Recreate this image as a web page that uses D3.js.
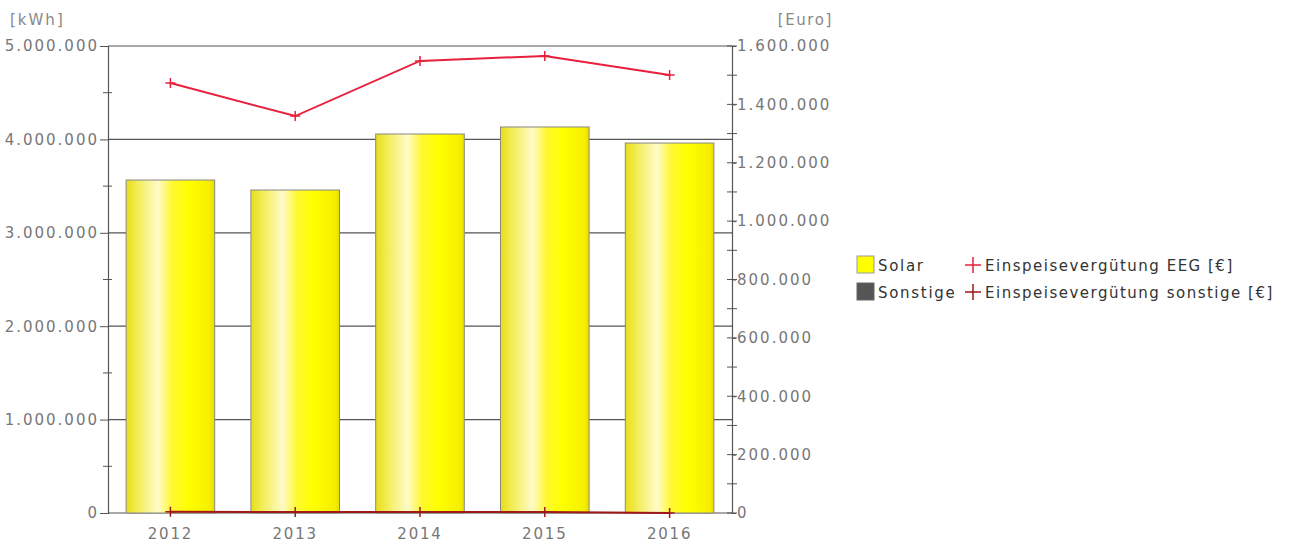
<!DOCTYPE html>
<html>
<head>
<meta charset="utf-8">
<script src="https://cdn.jsdelivr.net/npm/d3@7"></script>
<style>
  body { margin: 0; background: #fff; }
  text { font-family: "DejaVu Sans", sans-serif; }
</style>
</head>
<body>
<svg width="1292" height="542"></svg>
<script>
const years = ["2012", "2013", "2014", "2015", "2016"];
const solar = [3565000, 3458000, 4058000, 4133000, 3961000];
const sonstige = [0, 0, 0, 0, 0];
const eeg = [1473000, 1360000, 1549000, 1566000, 1501000];
const vergSonstige = [4000, 3500, 3500, 3000, 0];
const kwhTicks = [0, 1000000, 2000000, 3000000, 4000000, 5000000];
const euroTicks = [0, 200000, 400000, 600000, 800000, 1000000, 1200000, 1400000, 1600000];

const fmt = d => d3.format(",")(d).replace(/,/g, ".");

const svg = d3.select("svg");
const plotL = 108, plotR = 732, plotT = 46, plotB = 513;

const x = d3.scaleBand().domain(years).range([plotL, plotR]).paddingInner(0.29).paddingOuter(0.145);
const y = d3.scaleLinear().domain([0, 5000000]).range([plotB, plotT]);
const y2 = d3.scaleLinear().domain([0, 1600000]).range([plotB, plotT]);

const defs = svg.append("defs");
const grad = defs.append("linearGradient").attr("id", "barGrad");
grad.selectAll("stop")
  .data([[0, "#e8de18"], [0.15, "#f4ee60"], [0.36, "#fffbc8"], [0.52, "#fff830"], [0.7, "#ffff00"], [0.95, "#f6ee00"], [1, "#e4dc00"]])
  .join("stop")
  .attr("offset", d => d[0])
  .attr("stop-color", d => d[1]);

// gridlines
svg.append("g")
  .selectAll("line")
  .data(kwhTicks)
  .join("line")
  .attr("x1", plotL).attr("x2", plotR)
  .attr("y1", d => y(d)).attr("y2", d => y(d))
  .attr("stroke", "#555").attr("stroke-width", 1.2);

// bars
svg.append("g")
  .selectAll("rect")
  .data(years)
  .join("rect")
  .attr("x", d => x(d))
  .attr("width", x.bandwidth())
  .attr("y", (d, i) => y(solar[i]))
  .attr("height", (d, i) => plotB - y(solar[i]))
  .attr("fill", "url(#barGrad)")
  .attr("stroke", "#888").attr("stroke-width", 1);

// left axis
const leftAxis = svg.append("g").attr("transform", `translate(${plotL},0)`)
  .call(d3.axisLeft(y).tickValues(kwhTicks).tickFormat(fmt).tickSize(8).tickPadding(1));
leftAxis.selectAll("line.minor")
  .data([500000, 1500000, 2500000, 3500000, 4500000])
  .join("line")
  .attr("class", "minor")
  .attr("x1", -5).attr("x2", 4)
  .attr("y1", d => y(d)).attr("y2", d => y(d))
  .attr("stroke", "#555");

// right axis
const rightAxis = svg.append("g").attr("transform", `translate(${plotR},0)`)
  .call(d3.axisRight(y2).tickValues(euroTicks).tickFormat(fmt).tickSize(4).tickPadding(1));
rightAxis.selectAll("line.minor")
  .data([0, 100000, 200000, 300000, 400000, 500000, 600000, 700000, 800000, 900000, 1000000, 1100000, 1200000, 1300000, 1400000, 1500000, 1600000])
  .join("line")
  .attr("class", "minor")
  .attr("x1", -5).attr("x2", 5)
  .attr("y1", d => y2(d)).attr("y2", d => y2(d))
  .attr("stroke", "#555");

[leftAxis, rightAxis].forEach(g => {
  g.select(".domain").attr("stroke", "#555").attr("stroke-width", 1.2);
  g.selectAll(".tick line").attr("stroke", "#555");
  g.selectAll(".tick text")
    .attr("fill", "#777").attr("font-size", 15).style("letter-spacing", "2px");
});

// x labels
svg.append("g")
  .selectAll("text")
  .data(years)
  .join("text")
  .attr("x", d => x(d) + x.bandwidth() / 2)
  .attr("y", 539)
  .attr("text-anchor", "middle")
  .attr("fill", "#777").attr("font-size", 15).style("letter-spacing", "1.8px")
  .text(d => d);

// unit labels
svg.append("text").attr("x", 10).attr("y", 25).attr("fill", "#888").attr("font-size", 15)
  .style("letter-spacing", "2px").text("[kWh]");
svg.append("text").attr("x", 833).attr("y", 25).attr("text-anchor", "end").attr("fill", "#888").attr("font-size", 15)
  .style("letter-spacing", "1.6px").text("[Euro]");

// lines
const line = d3.line().x((d, i) => x(years[i]) + x.bandwidth() / 2).y(d => y2(d));
const cross = s => `M${-s},0H${s}M0,${-s}V${s}`;

function drawSeries(vals, color) {
  svg.append("path").datum(vals)
    .attr("d", line).attr("fill", "none").attr("stroke", color).attr("stroke-width", 2);
  svg.append("g").selectAll("path")
    .data(vals)
    .join("path")
    .attr("transform", (d, i) => `translate(${x(years[i]) + x.bandwidth() / 2},${y2(d)})`)
    .attr("d", cross(5))
    .attr("stroke", color).attr("stroke-width", 1.5);
}
drawSeries(vergSonstige, "#a01818");
drawSeries(eeg, "#e8203c");

// legend
const legend = svg.append("g").attr("font-size", 15).attr("fill", "#333");
const legRows = [
  { label: "Solar", fill: "#ffff00", stroke: "#999", line: "Einspeisevergütung EEG [€]", lc: "#e8203c" },
  { label: "Sonstige", fill: "#555", stroke: "#666", line: "Einspeisevergütung sonstige [€]", lc: "#a01818" }
];
legRows.forEach((r, i) => {
  const ly = 265 + i * 27;
  legend.append("rect").attr("x", 857).attr("y", ly - 9).attr("width", 17).attr("height", 17)
    .attr("fill", r.fill).attr("stroke", r.stroke);
  legend.append("text").attr("x", 878).attr("y", ly + 6).style("letter-spacing", "1.7px").text(r.label);
  legend.append("path").attr("transform", `translate(973,${ly})`).attr("d", cross(8))
    .attr("stroke", r.lc).attr("stroke-width", 1.5);
  legend.append("text").attr("x", 985).attr("y", ly + 6).style("letter-spacing", "1.5px").text(r.line);
});
</script>
</body>
</html>
